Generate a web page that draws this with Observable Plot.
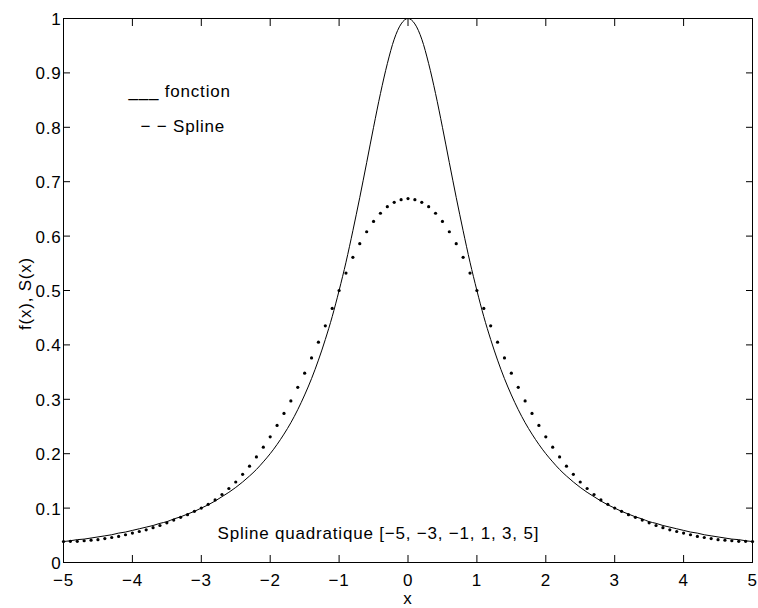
<!DOCTYPE html>
<html>
<head>
<meta charset="utf-8">
<script src="https://cdn.jsdelivr.net/npm/d3@7"></script>
<script src="https://cdn.jsdelivr.net/npm/@observablehq/plot@0.6"></script>
<style>
  html, body { margin: 0; padding: 0; background: #ffffff; }
</style>
</head>
<body>
<div id="chart"></div>
<script>
// ---- data ----
const xValues = [
  -5,-4.9,-4.8,-4.7,-4.6,-4.5,-4.4,-4.3,-4.2,-4.1,
  -4,-3.9,-3.8,-3.7,-3.6,-3.5,-3.4,-3.3,-3.2,-3.1,
  -3,-2.9,-2.8,-2.7,-2.6,-2.5,-2.4,-2.3,-2.2,-2.1,
  -2,-1.9,-1.8,-1.7,-1.6,-1.5,-1.4,-1.3,-1.2,-1.1,
  -1,-0.9,-0.8,-0.7,-0.6,-0.5,-0.4,-0.3,-0.2,-0.1,
  0,
  0.1,0.2,0.3,0.4,0.5,0.6,0.7,0.8,0.9,1,
  1.1,1.2,1.3,1.4,1.5,1.6,1.7,1.8,1.9,2,
  2.1,2.2,2.3,2.4,2.5,2.6,2.7,2.8,2.9,3,
  3.1,3.2,3.3,3.4,3.5,3.6,3.7,3.8,3.9,4,
  4.1,4.2,4.3,4.4,4.5,4.6,4.7,4.8,4.9,5
];
const fonctionValues = [
  0.0385,0.040,0.042,0.043,0.045,0.047,0.049,0.051,0.054,0.056,
  0.059,0.062,0.065,0.068,0.072,0.075,0.080,0.084,0.089,0.094,
  0.100,0.106,0.113,0.121,0.129,0.138,0.148,0.159,0.171,0.185,
  0.200,0.217,0.236,0.257,0.281,0.308,0.338,0.372,0.410,0.452,
  0.500,0.552,0.610,0.671,0.735,0.800,0.862,0.917,0.962,0.990,
  1,
  0.990,0.962,0.917,0.862,0.800,0.735,0.671,0.610,0.552,0.500,
  0.452,0.410,0.372,0.338,0.308,0.281,0.257,0.236,0.217,0.200,
  0.185,0.171,0.159,0.148,0.138,0.129,0.121,0.113,0.106,0.100,
  0.094,0.089,0.084,0.080,0.075,0.072,0.068,0.065,0.062,0.059,
  0.056,0.054,0.051,0.049,0.047,0.045,0.043,0.042,0.040,0.0385
];
const splineValues = [
  0.0385,0.039,0.039,0.040,0.041,0.042,0.044,0.046,0.048,0.051,
  0.054,0.057,0.060,0.064,0.068,0.073,0.078,0.083,0.088,0.094,
  0.100,0.107,0.115,0.125,0.136,0.148,0.162,0.177,0.194,0.212,
  0.231,0.252,0.274,0.297,0.322,0.348,0.376,0.405,0.435,0.467,
  0.500,0.532,0.561,0.586,0.608,0.627,0.642,0.654,0.662,0.667,
  0.669,
  0.667,0.662,0.654,0.642,0.627,0.608,0.586,0.561,0.532,0.500,
  0.467,0.435,0.405,0.376,0.348,0.322,0.297,0.274,0.252,0.231,
  0.212,0.194,0.177,0.162,0.148,0.136,0.125,0.115,0.107,0.100,
  0.094,0.088,0.083,0.078,0.073,0.068,0.064,0.060,0.057,0.054,
  0.051,0.048,0.046,0.044,0.042,0.041,0.040,0.039,0.039,0.0385
];
const xTicks = [-5,-4,-3,-2,-1,0,1,2,3,4,5];
const xTickLabels = ["−5","−4","−3","−2","−1","0","1","2","3","4","5"];
const yTicks = [0,0.1,0.2,0.3,0.4,0.5,0.6,0.7,0.8,0.9,1];
const yTickLabels = ["0","0.1","0.2","0.3","0.4","0.5","0.6","0.7","0.8","0.9","1"];
const legendLabels = ["___ fonction", "− − Spline"];
const annotationText = "Spline quadratique [−5, −3, −1, 1, 3, 5]";
const xLabel = "x";
const yLabel = "f(x), S(x)";

// ---- build tables ----
const fonctionData = xValues.map((x, i) => ({x, y: fonctionValues[i]}));
const splineData = xValues.map((x, i) => ({x, y: splineValues[i]}));

const chart = Plot.plot({
  width: 758,
  height: 608,
  marginLeft: 63,
  marginRight: 6,
  marginTop: 18,
  marginBottom: 46,
  style: {
    fontFamily: "'Liberation Sans', Arial, Helvetica, sans-serif",
    fontSize: "17px",
    letterSpacing: "0.8px",
    background: "#ffffff",
    color: "#000000"
  },
  x: {domain: [-5, 5], label: null},
  y: {domain: [0, 1], label: null},
  marks: [
    Plot.line(fonctionData, {x: "x", y: "y", stroke: "#000", strokeWidth: 1, curve: "monotone-x"}),
    Plot.dot(splineData, {x: "x", y: "y", r: 1.6, fill: "#000", stroke: null}),
    Plot.frame({stroke: "#000", strokeWidth: 1}),
    Plot.axisX(xTicks, {anchor: "bottom", tickSize: 0, tickPadding: 11, tickFormat: d => xTickLabels[xTicks.indexOf(d)], label: null}),
    Plot.axisX(xTicks, {anchor: "bottom", tickSize: -7, tickFormat: () => "", label: null, stroke: "#000"}),
    Plot.axisX(xTicks, {anchor: "top", tickSize: -7, tickFormat: () => "", label: null, stroke: "#000"}),
    Plot.axisY(yTicks, {anchor: "left", tickSize: 0, tickPadding: 2, dy: 1, tickFormat: d => yTickLabels[yTicks.indexOf(d)], label: null}),
    Plot.axisY(yTicks, {anchor: "left", tickSize: -7, tickFormat: () => "", label: null, stroke: "#000"}),
    Plot.axisY(yTicks, {anchor: "right", tickSize: -7, tickFormat: () => "", label: null, stroke: "#000"}),
    Plot.text([xLabel], {text: d => d, frameAnchor: "bottom", textAnchor: "middle", lineAnchor: "middle", dy: 36}),
    Plot.text([yLabel], {text: d => d, frameAnchor: "left", textAnchor: "middle", lineAnchor: "middle", rotate: -90, dx: -38, dy: 3}),
    Plot.text([legendLabels[0]], {text: d => d, frameAnchor: "top-left", textAnchor: "start", lineAnchor: "middle", dx: 65, dy: 72.6}),
    Plot.text([legendLabels[1]], {text: d => d, frameAnchor: "top-left", textAnchor: "start", lineAnchor: "middle", dx: 77, dy: 107.6}),
    Plot.text([annotationText], {text: d => d, frameAnchor: "bottom-left", textAnchor: "start", lineAnchor: "middle", dx: 154, dy: -29.4})
  ]
});
document.getElementById("chart").appendChild(chart);
</script>
</body>
</html>
